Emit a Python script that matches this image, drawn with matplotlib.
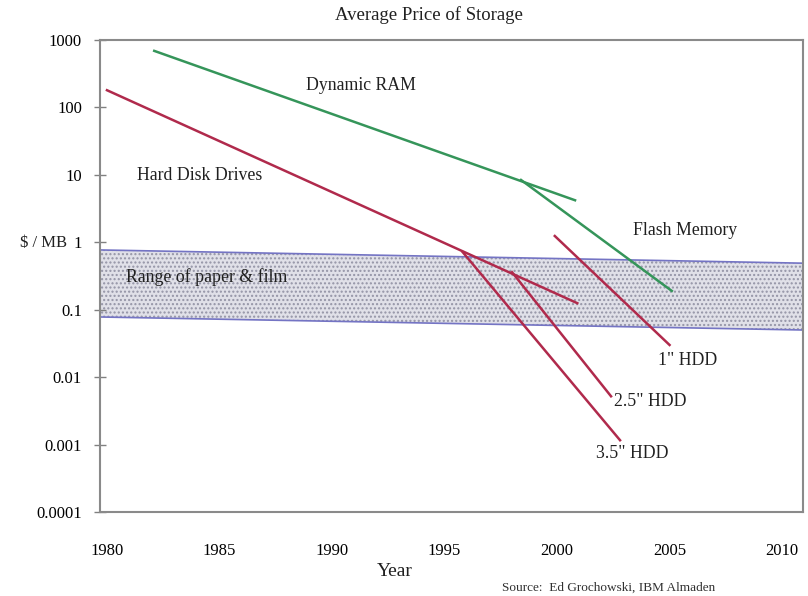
import matplotlib
matplotlib.use("Agg")
import matplotlib.pyplot as plt

plt.rcParams['font.family'] = ['Liberation Serif', 'DejaVu Serif']
plt.rcParams['hatch.color'] = '#9494a6'
plt.rcParams['hatch.linewidth'] = 1.0

# data
hdd_years = [1980.0, 2000.9]
hdd_price = [180, 0.125]
hdd35_years = [1995.8, 2002.8]
hdd35_price = [0.72, 0.00116]
hdd25_years = [1998.0, 2002.4]
hdd25_price = [0.36, 0.0052]
hdd1_years = [1999.9, 2005.0]
hdd1_price = [1.24, 0.030]
dram_years = [1982.1, 2000.8]
dram_price = [690, 4.2]
flash_years = [1998.4, 2005.1]
flash_price = [8.4, 0.19]
paper_years = [1979.7, 2010.93]
paper_high = [0.77, 0.49]
paper_low = [0.078, 0.050]

y_ticks = [1000, 100, 10, 1, 0.1, 0.01, 0.001, 0.0001]
y_labels = ['1000', '100', '10', '1', '0.1', '0.01', '0.001', '0.0001']
x_ticks = [1980, 1985, 1990, 1995, 2000, 2005, 2010]

red = '#b02a4c'
green = '#35955a'

fig = plt.figure(figsize=(8.08, 5.96), dpi=100)
ax = fig.add_axes([100 / 808, 84 / 596, 703 / 808, 472 / 596])

ax.fill_between(paper_years, paper_low, paper_high, facecolor='#e0e0e8',
                hatch='....', edgecolor='#9494a6', linewidth=0)
ax.plot(paper_years, paper_high, color='#7474c4', lw=1.2)
ax.plot(paper_years, paper_low, color='#7474c4', lw=1.2)

ax.plot(hdd_years, hdd_price, color=red, lw=1.8)
ax.plot(hdd35_years, hdd35_price, color=red, lw=1.8)
ax.plot(hdd25_years, hdd25_price, color=red, lw=1.8)
ax.plot(hdd1_years, hdd1_price, color=red, lw=1.8)
ax.plot(dram_years, dram_price, color=green, lw=1.8)
ax.plot(flash_years, flash_price, color=green, lw=1.8)

ax.set_yscale('log')
ax.set_ylim(0.0001, 1000)
ax.set_xlim(1979.69, 2010.93)
ax.set_yticks(y_ticks)
ax.set_yticklabels(y_labels)
ax.minorticks_off()
ax.set_xticks(x_ticks)
ax.set_xticklabels([str(x) for x in x_ticks])
ax.tick_params(axis='y', direction='inout', length=8, width=1, color='#808080',
               labelsize=12, pad=9)
ax.tick_params(axis='x', length=0, labelsize=12, pad=22)
for s in ax.spines.values():
    s.set_color('#8a8a8a')
    s.set_linewidth(1.5)

txt = dict(fontsize=12.8, color='#202020', ha='center', va='center')
ax.text(1991.3, 215, 'Dynamic RAM', **txt)
ax.text(1984.13, 9.9, 'Hard Disk Drives', **txt)
ax.text(2005.69, 1.52, 'Flash Memory', **txt)
ax.text(1984.44, 0.305, 'Range of paper & film', **txt)
ax.text(2005.82, 0.0179, '1" HDD', **txt)
ax.text(2004.13, 0.0044, '2.5" HDD', **txt)
ax.text(2003.33, 0.00074, '3.5" HDD', **txt)

fig.text(43 / 808, 1 - 243 / 596, '$ / MB', ha='center', va='center',
         fontsize=12, color='#202020')
fig.text(395 / 808, 1 - 572 / 596, 'Year', ha='center', va='center',
         fontsize=14, color='#202020')
fig.text(429 / 808, 1 - 15 / 596, 'Average Price of Storage', ha='center',
         va='center', fontsize=13.5, color='#202020')
fig.text(609 / 808, 1 - 588 / 596, 'Source:  Ed Grochowski, IBM Almaden',
         ha='center', va='center', fontsize=9.5, color='#303030')

fig.savefig('out.png', dpi=100)
